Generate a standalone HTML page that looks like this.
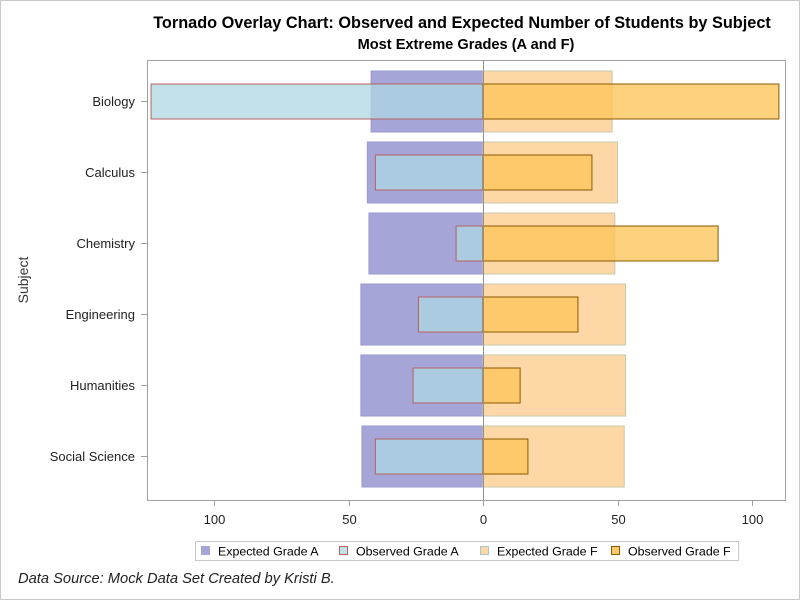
<!DOCTYPE html>
<html><head><meta charset="utf-8"><style>
body{margin:0;background:#fff;font-family:"Liberation Sans",sans-serif}
#wrap{position:relative;width:800px;height:600px;overflow:hidden}
</style></head><body>
<div id="wrap">
<svg id="svg" width="800" height="600" xmlns="http://www.w3.org/2000/svg">
<rect x="0.5" y="0.5" width="799" height="599" fill="#fff" stroke="#c8c8c8"/>
<text x="462" y="28" text-anchor="middle" font-size="16.3" font-weight="bold">Tornado Overlay Chart: Observed and Expected Number of Students by Subject</text>
<text x="466" y="49" text-anchor="middle" font-size="14.6" font-weight="bold">Most Extreme Grades (A and F)</text>
<g id="plot"></g>
<text x="28" y="280" text-anchor="middle" font-size="14" fill="#333" transform="rotate(-90 28 280)">Subject</text>
<g>
<rect x="195.5" y="541.5" width="543" height="19" fill="#fff" stroke="#c8c8c8"/>
<rect x="201" y="546" width="9" height="9" fill="#a5a5d8"/>
<text x="218" y="555.5" font-size="12.4">Expected Grade A</text>
<rect x="339.5" y="546.5" width="8" height="8" fill="#c2e2ea" stroke="#b86060"/>
<text x="356" y="555.5" font-size="12.4">Observed Grade A</text>
<rect x="480.5" y="546.5" width="8" height="8" fill="#fed7a6" stroke="#a8c8c8"/>
<text x="497" y="555.5" font-size="12.4">Expected Grade F</text>
<rect x="611.5" y="546.5" width="8" height="8" fill="#fec96a" stroke="#8b5a00"/>
<text x="628" y="555.5" font-size="12.4">Observed Grade F</text>
</g>
<text x="18" y="583" font-size="14.7" font-style="italic" fill="#222">Data Source: Mock Data Set Created by Kristi B.</text>
</svg>
</div>
<script>
const categories=["Biology","Calculus","Chemistry","Engineering","Humanities","Social Science"];
const expectedA=[41.6,43,42.4,45.4,45.4,45];
const observedA=[123.4,40,10,24,26,40];
const expectedF=[48,50,49,53,53,52.5];
const observedF=[110,40.5,87.4,35.3,13.8,16.7];
const xTicks=[-100,-50,0,50,100];
const xTickLabels=["100","50","0","50","100"];

const NS="http://www.w3.org/2000/svg";
const L=147,R=785,T=60,B=500,zeroX=483,pxPer=2.69;
const x=v=>zeroX+v*pxPer;
const yc=i=>101+i*71;
const g=document.getElementById('plot');
function mk(tag,attrs){const e=document.createElementNS(NS,tag);for(const k in attrs)e.setAttribute(k,attrs[k]);g.appendChild(e);return e;}
let e;
e=mk('rect',{x:L+0.5,y:T+0.5,width:R-L,height:B-T,fill:'none',stroke:'#a0a0a0'});


categories.forEach((c,i)=>{
  const y=yc(i);
  e=mk('rect',{x:x(-expectedA[i]),y:y-30,width:expectedA[i]*pxPer,height:61,fill:'#a5a5d8',stroke:'#9a9ad0'});
  
  
  e=mk('rect',{x:zeroX,y:y-30,width:expectedF[i]*pxPer,height:61,fill:'#fed7a6',stroke:'#c8c8a8'});
  
  
  e=mk('rect',{x:x(-observedA[i]),y:y-17,width:observedA[i]*pxPer,height:35,fill:'rgba(173,216,227,0.75)',stroke:'#b86060'});
  
  
  e=mk('rect',{x:zeroX,y:y-17,width:observedF[i]*pxPer,height:35,fill:'rgba(254,198,92,0.8)',stroke:'#8b5a00'});
  
  
  e=mk('line',{x1:L-6,x2:L,y1:y+0.5,y2:y+0.5,stroke:'#a0a0a0'});
  
  
  e=mk('text',{x:L-12,y:y+5,'text-anchor':'end','font-size':13,fill:'#222'});
  e.textContent=c;
  
  
});
e=mk('line',{x1:zeroX+0.5,x2:zeroX+0.5,y1:T,y2:B,stroke:'#909090'});


xTicks.forEach((t,i)=>{
  const px=Math.round(x(t))+0.5;
  e=mk('line',{x1:px,x2:px,y1:B,y2:B+6,stroke:'#a0a0a0'});
  
  
  e=mk('text',{x:px,y:B+24,'text-anchor':'middle','font-size':13,fill:'#222'});
  e.textContent=xTickLabels[i];
  
  
});
</script>
</body></html>
